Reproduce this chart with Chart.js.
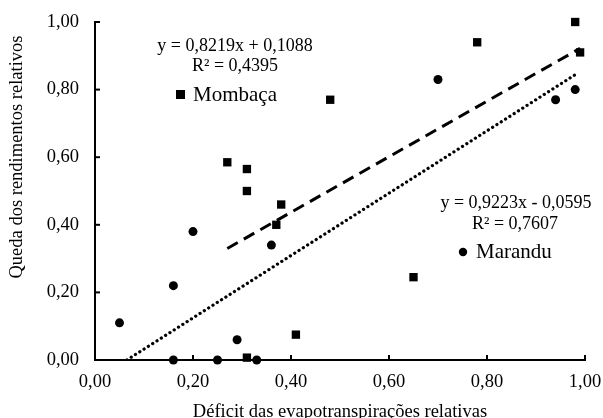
<!DOCTYPE html>
<html>
<head>
<meta charset="utf-8">
<script src="https://cdn.jsdelivr.net/npm/chart.js@4"></script>
<style>
  body { margin: 0; background: #fff; }
  #wrap { width: 603px; height: 418px; }
</style>
</head>
<body>
<div id="wrap"><canvas id="chart" width="603" height="418"></canvas></div>
<script>
// Mombaça (squares)
const mombacaX = [0.98, 0.99, 0.78, 0.48, 0.27, 0.31, 0.31, 0.38, 0.37, 0.41, 0.31, 0.65];
const mombacaY = [1.00, 0.91, 0.94, 0.77, 0.585, 0.565, 0.50, 0.46, 0.40, 0.075, 0.007, 0.245];
// Marandu (circles)
const maranduX = [0.05, 0.16, 0.20, 0.36, 0.29, 0.16, 0.25, 0.33, 0.70, 0.94, 0.98];
const maranduY = [0.11, 0.22, 0.38, 0.34, 0.06, 0.00, 0.00, 0.00, 0.83, 0.77, 0.80];
// trend line end points
const mombacaTrendX = [0.27, 0.99];
const mombacaTrendY = [0.33, 0.922];
const maranduTrendX = [0.065, 0.98];
const maranduTrendY = [0.0, 0.844];

const xTicks = [0, 0.2, 0.4, 0.6, 0.8, 1.0];
const yTicks = [0, 0.2, 0.4, 0.6, 0.8, 1.0];

const pts = (xs, ys) => xs.map((x, i) => ({ x: x, y: ys[i] }));
const fmt = (v) => v.toFixed(2).replace('.', ',');
const FONT = '"Liberation Serif", "Times New Roman", serif';

// inside tick marks, y title, equations and legend text
const extras = {
  id: 'extras',
  afterDraw(chart) {
    const ctx = chart.ctx;
    const xs = chart.scales.x, ys = chart.scales.y;
    const a = chart.chartArea;
    ctx.save();
    ctx.strokeStyle = '#000';
    ctx.lineWidth = 2;
    xTicks.forEach((v) => {
      const px = xs.getPixelForValue(v);
      ctx.beginPath(); ctx.moveTo(px, a.bottom); ctx.lineTo(px, a.bottom - 5); ctx.stroke();
    });
    yTicks.forEach((v) => {
      const py = ys.getPixelForValue(v);
      ctx.beginPath(); ctx.moveTo(a.left, py); ctx.lineTo(a.left + 5, py); ctx.stroke();
    });

    ctx.fillStyle = '#000';
    ctx.textBaseline = 'middle';

    // y axis title (sits above the axis centre, as in the original)
    ctx.save();
    ctx.translate(17, 157);
    ctx.rotate(-Math.PI / 2);
    ctx.textAlign = 'center';
    ctx.font = '18.5px ' + FONT;
    ctx.fillText('Queda dos rendimentos relativos', 0, 0);
    ctx.restore();

    ctx.font = '18px ' + FONT;
    ctx.textAlign = 'center';
    ctx.fillText('y = 0,8219x + 0,1088', 235, 46);
    ctx.fillText('R² = 0,4395', 235, 66);
    ctx.fillText('y = 0,9223x - 0,0595', 516, 203);
    ctx.fillText('R² = 0,7607', 515, 224);

    ctx.font = '21px ' + FONT;
    ctx.textAlign = 'left';
    ctx.fillRect(176, 90, 9, 9);
    ctx.fillText('Mombaça', 193, 95);
    ctx.beginPath(); ctx.arc(463, 252, 4.2, 0, Math.PI * 2); ctx.fill();
    ctx.fillText('Marandu', 476, 252);
    ctx.restore();
  }
};

new Chart(document.getElementById('chart'), {
  type: 'scatter',
  data: {
    datasets: [
      {
        label: 'Mombaça',
        data: pts(mombacaX, mombacaY),
        pointStyle: 'rect',
        pointRadius: 5.9,
        backgroundColor: '#000',
        borderWidth: 0,
        clip: false,
        order: 1,
      },
      {
        label: 'Marandu',
        data: pts(maranduX, maranduY),
        pointStyle: 'circle',
        pointRadius: 4.5,
        backgroundColor: '#000',
        borderWidth: 0,
        clip: false,
        order: 1,
      },
      {
        label: 'Linear (Mombaça)',
        data: pts(mombacaTrendX, mombacaTrendY),
        showLine: true,
        pointRadius: 0,
        borderColor: '#000',
        borderWidth: 3,
        borderDash: [12, 7],
        order: 2,
      },
      {
        label: 'Linear (Marandu)',
        data: pts(maranduTrendX, maranduTrendY),
        showLine: true,
        pointRadius: 0,
        borderColor: '#000',
        borderWidth: 3.2,
        borderDash: [0.1, 5],
        borderCapStyle: 'round',
        order: 2,
      },
    ],
  },
  options: {
    responsive: false,
    animation: false,
    layout: { padding: { top: 22, right: 18, left: 0, bottom: 0 } },
    plugins: {
      legend: { display: false },
      tooltip: { enabled: false },
    },
    scales: {
      x: {
        min: 0, max: 1,
        afterBuildTicks: (s) => { s.ticks = xTicks.map((v) => ({ value: v })); },
        afterFit: (s) => { s.height = 58; s.paddingLeft = 0; s.paddingRight = 0; },
        grid: { display: false, drawTicks: false },
        border: { display: true, color: '#000', width: 2 },
        ticks: { padding: 11, color: '#000', font: { family: FONT, size: 18.5 }, callback: (v) => fmt(v) },
        title: { display: true, text: 'Déficit das evapotranspirações relativas', color: '#000',
                 font: { family: FONT, size: 18.5, lineHeight: 1 }, padding: { top: 0, bottom: -3 } },
      },
      y: {
        min: 0, max: 1,
        afterBuildTicks: (s) => { s.ticks = yTicks.map((v) => ({ value: v })); },
        afterFit: (s) => { s.width = 95; s.paddingTop = 0; s.paddingBottom = 0; },
        grid: { display: false, drawTicks: false },
        border: { display: true, color: '#000', width: 2 },
        ticks: { padding: 16, color: '#000', font: { family: FONT, size: 18.5 }, callback: (v) => fmt(v) },
        title: { display: false },
      },
    },
  },
  plugins: [extras],
});
</script>
</body>
</html>
